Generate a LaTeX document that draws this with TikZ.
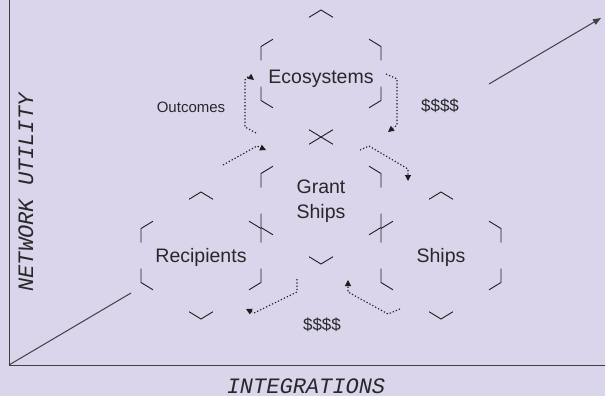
\documentclass[tikz,border=0pt]{standalone}
\usepackage{fontspec}
\setmainfont{Liberation Sans}
\newfontfamily\axisfont{Liberation Mono}
\usetikzlibrary{arrows.meta,calc}
\definecolor{bg}{RGB}{218,213,235}
\definecolor{ink}{RGB}{30,30,32}
\definecolor{txt}{RGB}{40,40,42}
\newcommand\hexa[3]{%
  \coordinate (#1-1) at (#2,#3-63.5);
  \coordinate (#1-2) at (#2+60,#3-27);
  \coordinate (#1-3) at (#2+60,#3+27);
  \coordinate (#1-4) at (#2,#3+63.5);
  \coordinate (#1-5) at (#2-60,#3+27);
  \coordinate (#1-6) at (#2-60,#3-27);
  \foreach \a/\b/\c in {1/6/2,2/1/3,3/2/4,4/3/5,5/4/6,6/5/1}
    \draw[hexline] ($(#1-\a)!14pt!(#1-\b)$) -- (#1-\a) -- ($(#1-\a)!14pt!(#1-\c)$);
}
\begin{document}
\begin{tikzpicture}[x=1pt,y=-1pt,
  hexline/.style={draw=ink,line width=0.9pt},
  axisline/.style={draw=ink!85,line width=1pt},
  lbl/.style={text=txt,font=\fontsize{19.5}{25}\selectfont,anchor=base,inner sep=0pt},
  smalllbl/.style={text=txt,font=\fontsize{15}{18}\selectfont,anchor=base,inner sep=0pt},
  money/.style={text=txt,font=\fontsize{17}{20}\selectfont,anchor=base,inner sep=0pt},
  axislbl/.style={text=txt,font=\axisfont\itshape\fontsize{22}{24}\selectfont,anchor=base,inner sep=0pt},
  flow/.style={draw=ink,line width=1.1pt,dash pattern=on 1.3pt off 2pt,
    -{Triangle[length=6pt,width=6pt]}}]
\fill[bg] (0,0) rectangle (605,396);
\useasboundingbox (0,0) rectangle (605,396);

% axes
\coordinate (ytop) at (9,0);
\coordinate (origin) at (9,365);
\coordinate (xend) at (605,365);
\coordinate (dlow) at (131,293);
\coordinate (dhs) at (489,84);
\coordinate (dhe) at (601,18);
\draw[axisline] (ytop) -- (origin) -- (xend);
\draw[axisline] (origin) -- (dlow);
\draw[axisline,-{Triangle[length=8pt,width=6pt]}] (dhs) -- (dhe);

\node[axislbl] (xlab) at (306,393) {INTEGRATIONS};
\node[axislbl,rotate=90] (ylab) at (33,192.5) {NETWORK UTILITY};

% hexagons
\hexa{eco}{321}{73.5}
\hexa{gs}{321}{200.5}
\hexa{rec}{201}{255.5}
\hexa{shp}{441}{255.5}

% labels
\node[lbl] (ecot) at (321,83) {Ecosystems};
\node[lbl] (gst1) at (321,193) {Grant};
\node[lbl] (gst2) at (321,218) {Ships};
\node[lbl] (rect) at (201,262) {Recipients};
\node[lbl] (shpt) at (441,262) {Ships};
\node[smalllbl] (outc) at (191,112) {Outcomes};
\node[money] (m1) at (440,111) {\$\$\$\$};
\node[money] (m2) at (322,330) {\$\$\$\$};

% flows
\coordinate (a1s) at (256,133); \coordinate (a1a) at (245,127); \coordinate (a1b) at (245,80);
\coordinate (a1c) at (249,76); \coordinate (a1e) at (254,80);
\draw[flow] (a1s) -- (a1a) -- (a1b) -- (a1c) -- (a1e);

\coordinate (a2s) at (386,74); \coordinate (a2a) at (397,79); \coordinate (a2b) at (397,125);
\coordinate (a2e) at (388,132);
\draw[flow] (a2s) -- (a2a) -- (a2b) -- (a2e);

\coordinate (a3s) at (223,165); \coordinate (a3a) at (257,146); \coordinate (a3e) at (266,150);
\draw[flow] (a3s) -- (a3a) -- (a3e);

\coordinate (a4s) at (360,150); \coordinate (a4a) at (369,146); \coordinate (a4b) at (408,169);
\coordinate (a4e) at (408,181);
\draw[flow] (a4s) -- (a4a) -- (a4b) -- (a4e);

\coordinate (a5s) at (297,279); \coordinate (a5a) at (297,292); \coordinate (a5b) at (254,313);
\coordinate (a5e) at (246,309);
\draw[flow] (a5s) -- (a5a) -- (a5b) -- (a5e);

\coordinate (a6s) at (400,309); \coordinate (a6a) at (388,314); \coordinate (a6b) at (348,292);
\coordinate (a6e) at (348,280);
\draw[flow] (a6s) -- (a6a) -- (a6b) -- (a6e);
\end{tikzpicture}
\end{document}
